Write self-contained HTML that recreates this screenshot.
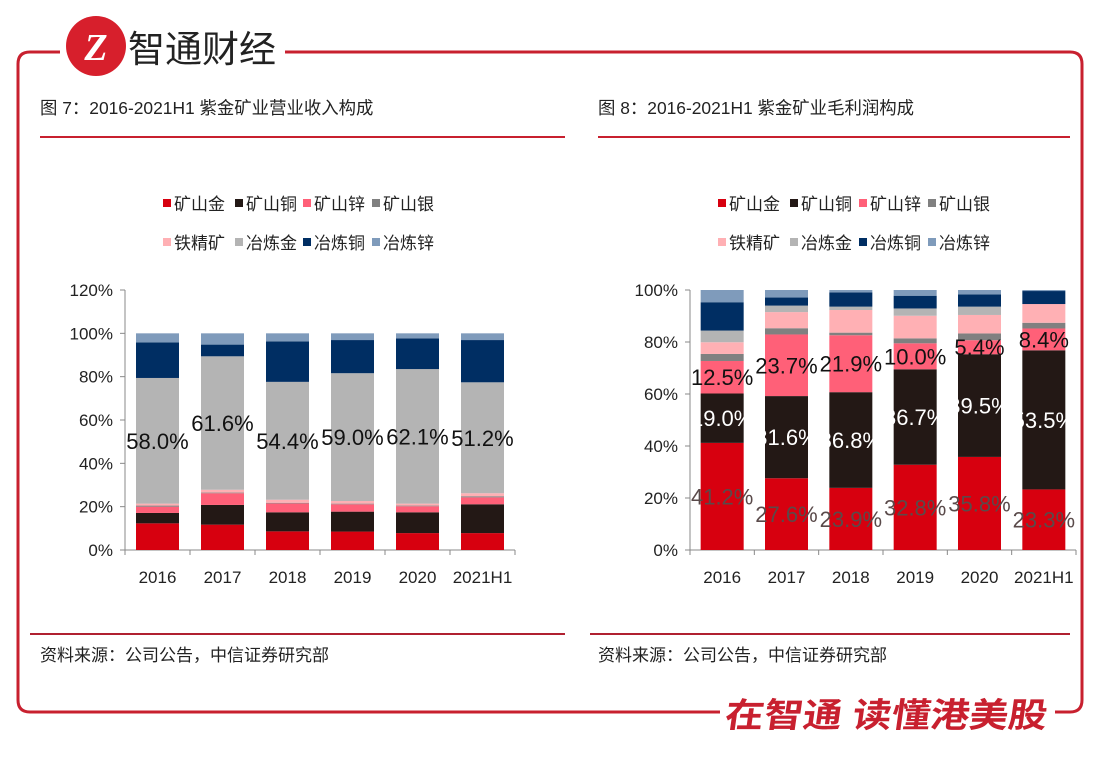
<!DOCTYPE html>
<html><head><meta charset="utf-8">
<style>
html,body{margin:0;padding:0;background:#fff;}
svg{display:block;font-family:"Liberation Sans","Noto Sans CJK SC",sans-serif;}
</style></head>
<body>
<svg id="s" width="1110" height="764" viewBox="0 0 1110 764" xmlns="http://www.w3.org/2000/svg">
  <path d="M60 52 H30 Q18 52 18 64 V700 Q18 712 30 712 H720" fill="none" stroke="#c8202f" stroke-width="3"/>
  <path d="M285 52 H1070 Q1082 52 1082 64 V700 Q1082 712 1070 712 H1055" fill="none" stroke="#c8202f" stroke-width="3"/>
  <circle cx="96" cy="46" r="30" fill="#d71f2c"/>
  <text x="96" y="60" font-size="38" font-weight="bold" font-style="italic" fill="#fff" text-anchor="middle" font-family="Liberation Serif,serif">Z</text>
  <text x="128" y="62" font-size="37" fill="#222" font-family="Liberation Sans,Noto Sans CJK SC,sans-serif">智通财经</text>
  <text x="1048" y="727" font-size="34" font-weight="bold" fill="#c8202f" text-anchor="end" textLength="322" lengthAdjust="spacingAndGlyphs" transform="skewX(-8) translate(100,0)">在智通 读懂港美股</text>

  <text x="40" y="114" font-size="17.4" fill="#222">图 7：2016-2021H1 紫金矿业营业收入构成</text>
  <line x1="40" y1="137" x2="565" y2="137" stroke="#c8202f" stroke-width="2"/>
  <line x1="30" y1="634" x2="565" y2="634" stroke="#b02030" stroke-width="2"/>
  <text x="40" y="661" font-size="17" fill="#222">资料来源：公司公告，中信证券研究部</text>

  <text x="598" y="114" font-size="17.4" fill="#222">图 8：2016-2021H1 紫金矿业毛利润构成</text>
  <line x1="598" y1="137" x2="1070" y2="137" stroke="#c8202f" stroke-width="2"/>
  <line x1="590" y1="634" x2="1070" y2="634" stroke="#b02030" stroke-width="2"/>
  <text x="598" y="661" font-size="17" fill="#222">资料来源：公司公告，中信证券研究部</text>
  <g id="charts"></g>
</svg>
<script>
const categories = ["2016","2017","2018","2019","2020","2021H1"];
const seriesNames = ["矿山金","矿山铜","矿山锌","矿山银","铁精矿","冶炼金","冶炼铜","冶炼锌"];
const seriesColors = ["#d7000f","#231815","#ff6078","#808080","#ffb0b4","#b4b4b4","#002e63","#7f9bbb"];
// Revenue composition (%)
const revGoldMine   = [12.3,11.7,8.6,8.5,7.8,7.8];
const revCopperMine = [4.8,9.1,8.8,9.2,9.6,13.3];
const revZincMine   = [2.9,5.4,4.1,3.4,2.8,3.2];
const revSilverMine = [0.5,0.3,0.3,0.3,0.3,0.5];
const revIronOre    = [0.9,1.3,1.4,1.2,0.9,1.4];
const revSmeltGold  = [58.0,61.6,54.4,59.0,62.1,51.2];
const revSmeltCopper= [16.4,5.4,18.7,15.3,14.2,19.5];
const revSmeltZinc  = [4.2,5.2,3.7,3.1,2.3,3.1];
// Gross profit composition (%)
const gpGoldMine   = [41.2,27.6,23.9,32.8,35.8,23.3];
const gpCopperMine = [19.0,31.6,36.8,36.7,39.5,53.5];
const gpZincMine   = [12.5,23.7,21.9,10.0,5.4,8.4];
const gpSilverMine = [2.7,2.4,1.0,1.9,2.6,2.2];
const gpIronOre    = [4.5,6.2,8.7,8.7,7.1,7.2];
const gpSmeltGold  = [4.5,2.5,1.3,2.8,3.2,0.0];
const gpSmeltCopper= [10.9,3.1,5.5,4.9,4.7,5.0];
const gpSmeltZinc  = [4.7,2.9,0.9,2.2,1.7,0.4];
const revTicks = [0,20,40,60,80,100,120];
const gpTicks = [0,20,40,60,80,100];

const NS="http://www.w3.org/2000/svg";
const root=document.getElementById('charts');
function mk(tag,attrs,parent){const e=document.createElementNS(NS,tag);for(const k in attrs)e.setAttribute(k,attrs[k]);(parent||root).appendChild(e);return e;}

function drawChart(cfg){
  const g=mk('g',{});
  
  
  const yMax=cfg.ticks[cfg.ticks.length-1];
  const y=v=>cfg.y0-(v/yMax)*(cfg.y0-cfg.yTop);
  const step=(cfg.x1-cfg.x0)/categories.length;
  const x=i=>cfg.x0+step*(i+0.5);
  seriesNames.forEach((n,i)=>{
    const lx=cfg.legX[i%4], ly=i<4?cfg.legY:cfg.legY+39;
    const it=mk('g',{},g);
    
    
    mk('rect',{x:lx,y:ly-11,width:8,height:8,fill:seriesColors[i]},it);
    mk('text',{x:lx+11,y:ly,'font-size':17,fill:'#222'},it).textContent=n;
  });
  const ya=mk('line',{x1:cfg.x0,y1:cfg.yTop,x2:cfg.x0,y2:cfg.y0,stroke:'#888','stroke-width':1},g);
  
  
  const xa=mk('line',{x1:cfg.x0,y1:cfg.y0,x2:cfg.x1,y2:cfg.y0,stroke:'#888','stroke-width':1},g);
  
  
  cfg.ticks.forEach(t=>{
    mk('line',{x1:cfg.x0-5,y1:y(t),x2:cfg.x0,y2:y(t),stroke:'#888'},g);
    const tl=mk('text',{x:cfg.x0-12,y:y(t)+6,'font-size':17,fill:'#222','text-anchor':'end'},g);
    tl.textContent=t+'%';
    
    
  });
  for(let i=0;i<=categories.length;i++){mk('line',{x1:cfg.x0+step*i,y1:cfg.y0,x2:cfg.x0+step*i,y2:cfg.y0+5,stroke:'#888'},g);}
  categories.forEach((c,i)=>{
    const xl=mk('text',{x:x(i),y:cfg.y0+33,'font-size':17,fill:'#222','text-anchor':'middle'},g);
    xl.textContent=c;
    
    
    let cum=0;
    cfg.series.forEach((s,k)=>{
      const v=s[i];
      const r=mk('rect',{x:x(i)-cfg.bw/2,y:y(cum+v),width:cfg.bw,height:Math.max(0,y(cum)-y(cum+v)),fill:seriesColors[k]},g);
      
      
      cum+=v;
    });
  });
  cfg.labels.forEach(L=>{
    categories.forEach((c,i)=>{
      let cum=0;for(let k=0;k<L.idx;k++)cum+=cfg.series[k][i];
      const v=cfg.series[L.idx][i];
      const t=mk('text',{x:x(i),y:y(cum+v/2)+8,'font-size':22,fill:L.color,'text-anchor':'middle'},g);
      t.textContent=v.toFixed(1)+'%';
      
      
    });
  });
}
drawChart({name:'revenue-chart',x0:125,x1:515,y0:550,yTop:290,bw:43,ticks:revTicks,
  series:[revGoldMine,revCopperMine,revZincMine,revSilverMine,revIronOre,revSmeltGold,revSmeltCopper,revSmeltZinc],
  legX:[163,235,303,372],legY:210,labels:[{idx:5,color:'#111'}]});
drawChart({name:'gross-profit-chart',x0:690,x1:1076,y0:550,yTop:290,bw:43,ticks:gpTicks,
  series:[gpGoldMine,gpCopperMine,gpZincMine,gpSilverMine,gpIronOre,gpSmeltGold,gpSmeltCopper,gpSmeltZinc],
  legX:[718,790,859,928],legY:210,labels:[{idx:0,color:'#5a4a4a'},{idx:1,color:'#fff'},{idx:2,color:'#111'}]});
</script>
</body></html>
